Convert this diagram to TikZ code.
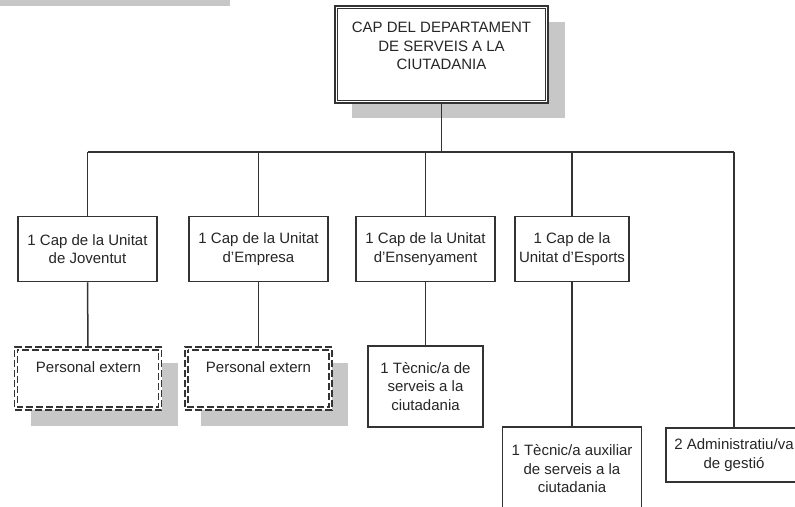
\documentclass[tikz,border=0pt]{standalone}
\usepackage{fontspec}
\setmainfont{Liberation Sans}
\begin{document}
\begin{tikzpicture}[x=1pt,y=-1pt,
  every node/.style={font=\fontsize{15}{18.5}\selectfont, text=black!85, inner sep=0pt},
  orgbox/.style={draw=black!80, line width=1.5pt, fill=white, align=center},
  extbox/.style={draw=black!80, line width=1.5pt, fill=white, dash pattern=on 7pt off 3pt},
  txt/.style={align=center},
  conn/.style={draw=black!80, line width=1.5pt}]
\useasboundingbox (0,0) rectangle (795,506);
\clip (0,0) rectangle (795,506);
% gray bar at top left
\fill[black!22] (0,0) rectangle (230,6);
% shadows
\fill[black!22] (352,22) rectangle (565,118);
\fill[black!22] (31,363) rectangle (178,426);
\fill[black!22] (201,363) rectangle (348,426);
% top box
\node[orgbox, minimum width=213, minimum height=97] (top) at (441.5,54.5) {};
\draw[black!80, line width=1.5pt] ([shift={(3.3,3.3)}]top.north west) rectangle ([shift={(-3.3,-3.3)}]top.south east);
\node[txt] (toptxt) at (441.5,46) {CAP DEL DEPARTAMENT\\DE SERVEIS A LA\\CIUTADANIA};
% level 2
\node[orgbox, minimum width=139, minimum height=65] (j) at (87.5,249) {1 Cap de la Unitat\\de Joventut};
\node[orgbox, minimum width=139, minimum height=65] (e) at (258.5,249) {1 Cap de la Unitat\\d’Empresa};
\node[orgbox, minimum width=139, minimum height=65] (n) at (425.5,249) {1 Cap de la Unitat\\d’Ensenyament};
\node[orgbox, minimum width=114, minimum height=65] (s) at (572,249) {1 Cap de la\\Unitat d’Esports};
\node[orgbox, minimum width=136, minimum height=54] (a) at (734,455) {2 Administratiu/va\\de gestió};
% level 3
\node[extbox, minimum width=147, minimum height=63] (pj) at (88,378.5) {};
\draw[black!80, line width=1.5pt, dash pattern=on 7pt off 3pt, dash phase=4pt] ([shift={(3.6,3.6)}]pj.north west) rectangle ([shift={(-3.6,-3.6)}]pj.south east);
\node[txt] (pjtxt) at (88.5,367) {Personal extern};
\node[extbox, minimum width=147, minimum height=63] (pe) at (258.5,378.5) {};
\draw[black!80, line width=1.5pt, dash pattern=on 7pt off 3pt, dash phase=4pt] ([shift={(3.6,3.6)}]pe.north west) rectangle ([shift={(-3.6,-3.6)}]pe.south east);
\node[txt] (petxt) at (258.5,367) {Personal extern};
\node[orgbox, minimum width=115, minimum height=81] (tn) at (425.5,386.5) {1 Tècnic/a de\\serveis a la\\ciutadania};
\node[orgbox, minimum width=139, minimum height=84] (ts) at (572,469) {1 Tècnic/a auxiliar\\de serveis a la\\ciutadania};
% connectors
\coordinate (bus) at (0,152);
\draw[conn] (j.north |- bus) -- (a.north |- bus);
\draw[conn] (top.south) -- (top.south |- bus);
\draw[conn] (j.north) -- (j.north |- bus);
\draw[conn] (e.north) -- (e.north |- bus);
\draw[conn] (n.north) -- (n.north |- bus);
\draw[conn] (s.north) -- (s.north |- bus);
\draw[conn] (a.north) -- (a.north |- bus);
\draw[conn] (j.south) -- (pj.north);
\draw[conn] (e.south) -- (pe.north);
\draw[conn] (n.south) -- (tn.north);
\draw[conn] (s.south) -- (ts.north);
\end{tikzpicture}
\end{document}
